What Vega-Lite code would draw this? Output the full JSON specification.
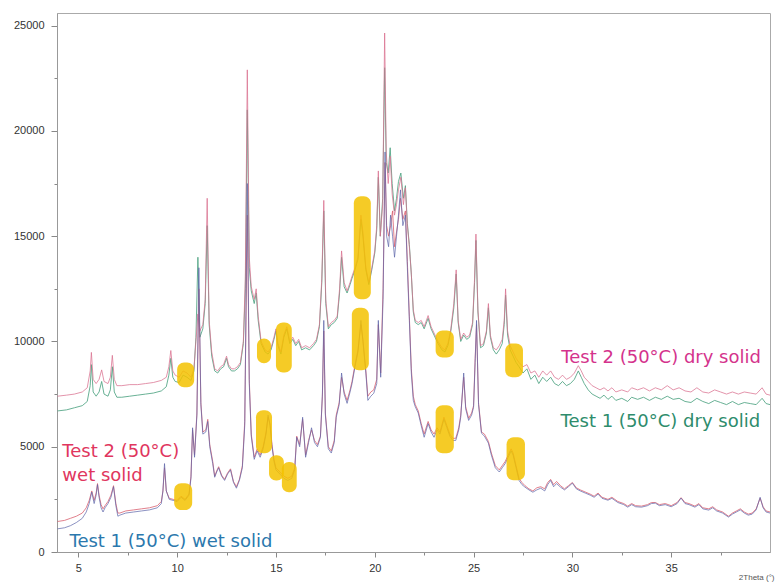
{
  "$schema": "https://vega.github.io/schema/vega-lite/v6.json",
  "autosize": "none",
  "width": 713,
  "height": 539,
  "padding": {"left": 57, "top": 13, "right": 7, "bottom": 31},
  "background": "white",
  "config": {
    "view": {"stroke": "#aaaaaa", "strokeWidth": 1},
    "axis": {"grid": false, "domainColor": "#999999", "tickColor": "#888888", "labelColor": "#333333", "labelFont": "Liberation Sans", "labelFontSize": 11}
  },
  "datasets": {
    "d2": [{"t":3.95,"i":7400},{"t":4.4,"i":7450},{"t":4.8,"i":7500},{"t":5.2,"i":7600},{"t":5.45,"i":7800},{"t":5.6,"i":8600},{"t":5.66,"i":9480},{"t":5.75,"i":8200},{"t":5.9,"i":8000},{"t":6.05,"i":8200},{"t":6.18,"i":8650},{"t":6.3,"i":8100},{"t":6.5,"i":8000},{"t":6.62,"i":8300},{"t":6.72,"i":9340},{"t":6.82,"i":8200},{"t":6.95,"i":7900},{"t":7.2,"i":7900},{"t":7.6,"i":7950},{"t":8.0,"i":7950},{"t":8.4,"i":8000},{"t":8.8,"i":8050},{"t":9.2,"i":8150},{"t":9.45,"i":8300},{"t":9.58,"i":8800},{"t":9.68,"i":9570},{"t":9.78,"i":8600},{"t":9.9,"i":8400},{"t":10.1,"i":8300},{"t":10.3,"i":8600},{"t":10.5,"i":8500},{"t":10.7,"i":8300},{"t":10.85,"i":8700},{"t":10.95,"i":10000},{"t":11.05,"i":11300},{"t":11.15,"i":10500},{"t":11.3,"i":10800},{"t":11.42,"i":12000},{"t":11.52,"i":16800},{"t":11.62,"i":11000},{"t":11.75,"i":9500},{"t":11.9,"i":8700},{"t":12.05,"i":8600},{"t":12.2,"i":8800},{"t":12.35,"i":8900},{"t":12.5,"i":9300},{"t":12.6,"i":8900},{"t":12.75,"i":8700},{"t":12.9,"i":8700},{"t":13.05,"i":8800},{"t":13.2,"i":9000},{"t":13.35,"i":10000},{"t":13.45,"i":13000},{"t":13.55,"i":22900},{"t":13.65,"i":14000},{"t":13.75,"i":12600},{"t":13.9,"i":12000},{"t":14.0,"i":12500},{"t":14.1,"i":11200},{"t":14.25,"i":10000},{"t":14.45,"i":9600},{"t":14.6,"i":9500},{"t":14.75,"i":9700},{"t":14.9,"i":10200},{"t":15.0,"i":10600},{"t":15.1,"i":9900},{"t":15.25,"i":9500},{"t":15.4,"i":10300},{"t":15.55,"i":10700},{"t":15.7,"i":10000},{"t":15.85,"i":10200},{"t":16.0,"i":9900},{"t":16.15,"i":10100},{"t":16.3,"i":9700},{"t":16.5,"i":9800},{"t":16.7,"i":9700},{"t":16.9,"i":9900},{"t":17.05,"i":10100},{"t":17.2,"i":10800},{"t":17.32,"i":13000},{"t":17.42,"i":16700},{"t":17.52,"i":12000},{"t":17.65,"i":10700},{"t":17.8,"i":10900},{"t":17.95,"i":11000},{"t":18.1,"i":11200},{"t":18.22,"i":12500},{"t":18.32,"i":14300},{"t":18.45,"i":12800},{"t":18.6,"i":12400},{"t":18.75,"i":12800},{"t":18.85,"i":13100},{"t":19.0,"i":13500},{"t":19.15,"i":14000},{"t":19.3,"i":16000},{"t":19.4,"i":15200},{"t":19.55,"i":13500},{"t":19.7,"i":12800},{"t":19.85,"i":13500},{"t":20.0,"i":14300},{"t":20.1,"i":15500},{"t":20.18,"i":18100},{"t":20.28,"i":15000},{"t":20.4,"i":16500},{"t":20.5,"i":24650},{"t":20.58,"i":19000},{"t":20.68,"i":17500},{"t":20.78,"i":18800},{"t":20.88,"i":17000},{"t":21.0,"i":16000},{"t":21.1,"i":16500},{"t":21.2,"i":17200},{"t":21.32,"i":17800},{"t":21.45,"i":16500},{"t":21.55,"i":17300},{"t":21.65,"i":15500},{"t":21.75,"i":14500},{"t":21.85,"i":13200},{"t":21.95,"i":11500},{"t":22.05,"i":11000},{"t":22.2,"i":10900},{"t":22.35,"i":11000},{"t":22.5,"i":10700},{"t":22.7,"i":11230},{"t":22.85,"i":10700},{"t":23.0,"i":10400},{"t":23.2,"i":10000},{"t":23.4,"i":9700},{"t":23.55,"i":9600},{"t":23.7,"i":9900},{"t":23.85,"i":10600},{"t":24.0,"i":11800},{"t":24.12,"i":13400},{"t":24.22,"i":11000},{"t":24.35,"i":10100},{"t":24.5,"i":10400},{"t":24.65,"i":10200},{"t":24.8,"i":10300},{"t":24.95,"i":10900},{"t":25.05,"i":13000},{"t":25.12,"i":15100},{"t":25.22,"i":11500},{"t":25.35,"i":9800},{"t":25.5,"i":9900},{"t":25.65,"i":10500},{"t":25.75,"i":11800},{"t":25.85,"i":10300},{"t":26.0,"i":9700},{"t":26.15,"i":9600},{"t":26.3,"i":9800},{"t":26.45,"i":10100},{"t":26.55,"i":11000},{"t":26.62,"i":12500},{"t":26.72,"i":10500},{"t":26.85,"i":9800},{"t":27.0,"i":9500},{"t":27.15,"i":9200},{"t":27.3,"i":9000},{"t":27.5,"i":8800},{"t":27.7,"i":8900},{"t":27.9,"i":8500},{"t":28.1,"i":8600},{"t":28.3,"i":8300},{"t":28.5,"i":8600},{"t":28.7,"i":8400},{"t":28.9,"i":8600},{"t":29.1,"i":8300},{"t":29.3,"i":8200},{"t":29.5,"i":8400},{"t":29.7,"i":8200},{"t":29.9,"i":8300},{"t":30.1,"i":8500},{"t":30.3,"i":8850},{"t":30.45,"i":8600},{"t":30.6,"i":8300},{"t":30.8,"i":8100},{"t":31.0,"i":7900},{"t":31.2,"i":7800},{"t":31.4,"i":7700},{"t":31.6,"i":7800},{"t":31.8,"i":7650},{"t":32.0,"i":7800},{"t":32.2,"i":7600},{"t":32.5,"i":7700},{"t":32.8,"i":7600},{"t":33.0,"i":7800},{"t":33.3,"i":7700},{"t":33.6,"i":7800},{"t":33.9,"i":7650},{"t":34.2,"i":7800},{"t":34.5,"i":7700},{"t":34.8,"i":7900},{"t":35.1,"i":7700},{"t":35.4,"i":7800},{"t":35.7,"i":7650},{"t":36.0,"i":7600},{"t":36.3,"i":7800},{"t":36.6,"i":7600},{"t":36.9,"i":7550},{"t":37.2,"i":7700},{"t":37.5,"i":7600},{"t":37.8,"i":7500},{"t":38.1,"i":7600},{"t":38.4,"i":7500},{"t":38.7,"i":7600},{"t":39.0,"i":7550},{"t":39.3,"i":7500},{"t":39.6,"i":7800},{"t":39.8,"i":7500},{"t":40.0,"i":7450}],
    "d1": [{"t":3.95,"i":6700},{"t":4.4,"i":6750},{"t":4.8,"i":6850},{"t":5.2,"i":6950},{"t":5.45,"i":7150},{"t":5.6,"i":7900},{"t":5.66,"i":8900},{"t":5.75,"i":7600},{"t":5.9,"i":7400},{"t":6.05,"i":7600},{"t":6.18,"i":8100},{"t":6.3,"i":7500},{"t":6.5,"i":7400},{"t":6.62,"i":7700},{"t":6.72,"i":8800},{"t":6.82,"i":7600},{"t":6.95,"i":7350},{"t":7.2,"i":7350},{"t":7.6,"i":7400},{"t":8.0,"i":7450},{"t":8.4,"i":7500},{"t":8.8,"i":7550},{"t":9.2,"i":7650},{"t":9.45,"i":7850},{"t":9.58,"i":8400},{"t":9.68,"i":9200},{"t":9.78,"i":8300},{"t":9.9,"i":8100},{"t":10.1,"i":8050},{"t":10.3,"i":8400},{"t":10.5,"i":8300},{"t":10.7,"i":8150},{"t":10.85,"i":8600},{"t":10.95,"i":10200},{"t":11.05,"i":14000},{"t":11.15,"i":10200},{"t":11.3,"i":10600},{"t":11.42,"i":11800},{"t":11.52,"i":15500},{"t":11.62,"i":10800},{"t":11.75,"i":9300},{"t":11.9,"i":8600},{"t":12.05,"i":8500},{"t":12.2,"i":8700},{"t":12.35,"i":8800},{"t":12.5,"i":9200},{"t":12.6,"i":8800},{"t":12.75,"i":8600},{"t":12.9,"i":8600},{"t":13.05,"i":8700},{"t":13.2,"i":8900},{"t":13.35,"i":9900},{"t":13.45,"i":12500},{"t":13.55,"i":21000},{"t":13.65,"i":13500},{"t":13.75,"i":12400},{"t":13.9,"i":11800},{"t":14.0,"i":12300},{"t":14.1,"i":11000},{"t":14.25,"i":9900},{"t":14.45,"i":9500},{"t":14.6,"i":9400},{"t":14.75,"i":9600},{"t":14.9,"i":10100},{"t":15.0,"i":10500},{"t":15.1,"i":9800},{"t":15.25,"i":9400},{"t":15.4,"i":10200},{"t":15.55,"i":10600},{"t":15.7,"i":9900},{"t":15.85,"i":10100},{"t":16.0,"i":9800},{"t":16.15,"i":10000},{"t":16.3,"i":9600},{"t":16.5,"i":9700},{"t":16.7,"i":9600},{"t":16.9,"i":9800},{"t":17.05,"i":10000},{"t":17.2,"i":10700},{"t":17.32,"i":12800},{"t":17.42,"i":16200},{"t":17.52,"i":11800},{"t":17.65,"i":10600},{"t":17.8,"i":10800},{"t":17.95,"i":10900},{"t":18.1,"i":11100},{"t":18.22,"i":12300},{"t":18.32,"i":14000},{"t":18.45,"i":12600},{"t":18.6,"i":12300},{"t":18.75,"i":12700},{"t":18.85,"i":13000},{"t":19.0,"i":13400},{"t":19.15,"i":13900},{"t":19.3,"i":15800},{"t":19.4,"i":15000},{"t":19.55,"i":13400},{"t":19.7,"i":12700},{"t":19.85,"i":13400},{"t":20.0,"i":14200},{"t":20.1,"i":15300},{"t":20.18,"i":17800},{"t":20.28,"i":15000},{"t":20.4,"i":16800},{"t":20.5,"i":23000},{"t":20.58,"i":18500},{"t":20.68,"i":18000},{"t":20.78,"i":19200},{"t":20.88,"i":17500},{"t":21.0,"i":16200},{"t":21.1,"i":16800},{"t":21.2,"i":17600},{"t":21.32,"i":18000},{"t":21.45,"i":16800},{"t":21.55,"i":17400},{"t":21.65,"i":15600},{"t":21.75,"i":14600},{"t":21.85,"i":13200},{"t":21.95,"i":11400},{"t":22.05,"i":10900},{"t":22.2,"i":10800},{"t":22.35,"i":10900},{"t":22.5,"i":10600},{"t":22.7,"i":11100},{"t":22.85,"i":10600},{"t":23.0,"i":10300},{"t":23.2,"i":9900},{"t":23.4,"i":9600},{"t":23.55,"i":9500},{"t":23.7,"i":9800},{"t":23.85,"i":10500},{"t":24.0,"i":11600},{"t":24.12,"i":13200},{"t":24.22,"i":10900},{"t":24.35,"i":10000},{"t":24.5,"i":10300},{"t":24.65,"i":10100},{"t":24.8,"i":10200},{"t":24.95,"i":10800},{"t":25.05,"i":12800},{"t":25.12,"i":14800},{"t":25.22,"i":11400},{"t":25.35,"i":9700},{"t":25.5,"i":9800},{"t":25.65,"i":10400},{"t":25.75,"i":11600},{"t":25.85,"i":10200},{"t":26.0,"i":9600},{"t":26.15,"i":9400},{"t":26.3,"i":9600},{"t":26.45,"i":9900},{"t":26.55,"i":10800},{"t":26.62,"i":12200},{"t":26.72,"i":10300},{"t":26.85,"i":9600},{"t":27.0,"i":9300},{"t":27.15,"i":9000},{"t":27.3,"i":8800},{"t":27.5,"i":8500},{"t":27.7,"i":8700},{"t":27.9,"i":8200},{"t":28.1,"i":8400},{"t":28.3,"i":8000},{"t":28.5,"i":8300},{"t":28.7,"i":8100},{"t":28.9,"i":8300},{"t":29.1,"i":8000},{"t":29.3,"i":7900},{"t":29.5,"i":8100},{"t":29.7,"i":7900},{"t":29.9,"i":8000},{"t":30.1,"i":8200},{"t":30.3,"i":8600},{"t":30.45,"i":8300},{"t":30.6,"i":8000},{"t":30.8,"i":7700},{"t":31.0,"i":7500},{"t":31.2,"i":7400},{"t":31.4,"i":7300},{"t":31.6,"i":7450},{"t":31.8,"i":7250},{"t":32.0,"i":7400},{"t":32.2,"i":7200},{"t":32.5,"i":7300},{"t":32.8,"i":7150},{"t":33.0,"i":7350},{"t":33.3,"i":7250},{"t":33.6,"i":7350},{"t":33.9,"i":7200},{"t":34.2,"i":7350},{"t":34.5,"i":7250},{"t":34.8,"i":7400},{"t":35.1,"i":7250},{"t":35.4,"i":7300},{"t":35.7,"i":7150},{"t":36.0,"i":7100},{"t":36.3,"i":7300},{"t":36.6,"i":7150},{"t":36.9,"i":7050},{"t":37.2,"i":7200},{"t":37.5,"i":7100},{"t":37.8,"i":7000},{"t":38.1,"i":7150},{"t":38.4,"i":7000},{"t":38.7,"i":7100},{"t":39.0,"i":7050},{"t":39.3,"i":7000},{"t":39.6,"i":7300},{"t":39.8,"i":7050},{"t":40.0,"i":7000}],
    "w1": [{"t":3.95,"i":1100},{"t":4.3,"i":1150},{"t":4.6,"i":1250},{"t":4.9,"i":1400},{"t":5.2,"i":1600},{"t":5.4,"i":1900},{"t":5.55,"i":2300},{"t":5.68,"i":2850},{"t":5.8,"i":2300},{"t":5.9,"i":2700},{"t":5.97,"i":3200},{"t":6.05,"i":2600},{"t":6.15,"i":2100},{"t":6.25,"i":1900},{"t":6.35,"i":2100},{"t":6.5,"i":2300},{"t":6.65,"i":2600},{"t":6.78,"i":3100},{"t":6.9,"i":2200},{"t":7.0,"i":1700},{"t":7.1,"i":1750},{"t":7.4,"i":1850},{"t":7.8,"i":1900},{"t":8.2,"i":1950},{"t":8.6,"i":2000},{"t":9.0,"i":2100},{"t":9.2,"i":2300},{"t":9.28,"i":2900},{"t":9.36,"i":4200},{"t":9.45,"i":2900},{"t":9.6,"i":2500},{"t":9.8,"i":2450},{"t":10.0,"i":2400},{"t":10.2,"i":2600},{"t":10.4,"i":2450},{"t":10.6,"i":2700},{"t":10.7,"i":3500},{"t":10.78,"i":5900},{"t":10.88,"i":4500},{"t":11.0,"i":6500},{"t":11.1,"i":13500},{"t":11.2,"i":7000},{"t":11.3,"i":5600},{"t":11.45,"i":5700},{"t":11.55,"i":6200},{"t":11.65,"i":5000},{"t":11.8,"i":4200},{"t":11.9,"i":3550},{"t":12.0,"i":3800},{"t":12.1,"i":4000},{"t":12.25,"i":3600},{"t":12.4,"i":3400},{"t":12.55,"i":3700},{"t":12.7,"i":3900},{"t":12.85,"i":3300},{"t":13.0,"i":3030},{"t":13.15,"i":3400},{"t":13.3,"i":4000},{"t":13.42,"i":6000},{"t":13.55,"i":17500},{"t":13.65,"i":8000},{"t":13.75,"i":5500},{"t":13.9,"i":4400},{"t":14.05,"i":4800},{"t":14.2,"i":4500},{"t":14.35,"i":4900},{"t":14.5,"i":5600},{"t":14.6,"i":6500},{"t":14.7,"i":6000},{"t":14.8,"i":5000},{"t":14.9,"i":4300},{"t":15.0,"i":3900},{"t":15.2,"i":3700},{"t":15.4,"i":3500},{"t":15.6,"i":3400},{"t":15.8,"i":3500},{"t":15.95,"i":3900},{"t":16.05,"i":5450},{"t":16.2,"i":5000},{"t":16.35,"i":6400},{"t":16.5,"i":4500},{"t":16.65,"i":5200},{"t":16.8,"i":5900},{"t":16.95,"i":5200},{"t":17.1,"i":5000},{"t":17.25,"i":5450},{"t":17.35,"i":7500},{"t":17.42,"i":11000},{"t":17.5,"i":6500},{"t":17.65,"i":4900},{"t":17.8,"i":4700},{"t":17.95,"i":5200},{"t":18.05,"i":6400},{"t":18.2,"i":7000},{"t":18.32,"i":8500},{"t":18.45,"i":7500},{"t":18.6,"i":7060},{"t":18.75,"i":7600},{"t":18.85,"i":8000},{"t":19.0,"i":8800},{"t":19.15,"i":9500},{"t":19.3,"i":11000},{"t":19.4,"i":10000},{"t":19.55,"i":8500},{"t":19.65,"i":7200},{"t":19.8,"i":7400},{"t":19.95,"i":7540},{"t":20.1,"i":8000},{"t":20.18,"i":11000},{"t":20.3,"i":8300},{"t":20.42,"i":12000},{"t":20.52,"i":19000},{"t":20.6,"i":15000},{"t":20.7,"i":14500},{"t":20.8,"i":16000},{"t":20.9,"i":15000},{"t":21.0,"i":14000},{"t":21.1,"i":15000},{"t":21.2,"i":16000},{"t":21.3,"i":17200},{"t":21.42,"i":15500},{"t":21.55,"i":16000},{"t":21.65,"i":13500},{"t":21.75,"i":11000},{"t":21.85,"i":8500},{"t":21.95,"i":7200},{"t":22.05,"i":6900},{"t":22.2,"i":6600},{"t":22.35,"i":6000},{"t":22.5,"i":5450},{"t":22.7,"i":6100},{"t":22.85,"i":5700},{"t":23.0,"i":5450},{"t":23.15,"i":5800},{"t":23.3,"i":5600},{"t":23.5,"i":6300},{"t":23.65,"i":5900},{"t":23.8,"i":5500},{"t":23.95,"i":5300},{"t":24.1,"i":5300},{"t":24.25,"i":5800},{"t":24.35,"i":6400},{"t":24.5,"i":8500},{"t":24.6,"i":6800},{"t":24.75,"i":6250},{"t":24.9,"i":6500},{"t":25.0,"i":6870},{"t":25.08,"i":9000},{"t":25.15,"i":11000},{"t":25.25,"i":7000},{"t":25.4,"i":5640},{"t":25.55,"i":5500},{"t":25.75,"i":5170},{"t":25.9,"i":4600},{"t":26.1,"i":4000},{"t":26.3,"i":3800},{"t":26.45,"i":4000},{"t":26.6,"i":4200},{"t":26.75,"i":4500},{"t":26.9,"i":4800},{"t":27.0,"i":4600},{"t":27.15,"i":4000},{"t":27.3,"i":3400},{"t":27.45,"i":3200},{"t":27.6,"i":3080},{"t":27.8,"i":2950},{"t":28.0,"i":2840},{"t":28.2,"i":2950},{"t":28.4,"i":3030},{"t":28.6,"i":2900},{"t":28.75,"i":3200},{"t":28.9,"i":3400},{"t":29.05,"i":3100},{"t":29.2,"i":3250},{"t":29.4,"i":3080},{"t":29.6,"i":2950},{"t":29.8,"i":3100},{"t":30.0,"i":3270},{"t":30.2,"i":3000},{"t":30.4,"i":2900},{"t":30.65,"i":2800},{"t":30.9,"i":2700},{"t":31.1,"i":2600},{"t":31.3,"i":2750},{"t":31.5,"i":2550},{"t":31.8,"i":2460},{"t":32.0,"i":2550},{"t":32.3,"i":2350},{"t":32.6,"i":2250},{"t":32.8,"i":2130},{"t":33.0,"i":2250},{"t":33.2,"i":2150},{"t":33.5,"i":2130},{"t":33.8,"i":2200},{"t":34.0,"i":2300},{"t":34.2,"i":2320},{"t":34.4,"i":2200},{"t":34.7,"i":2250},{"t":35.0,"i":2150},{"t":35.3,"i":2300},{"t":35.5,"i":2560},{"t":35.7,"i":2300},{"t":35.9,"i":2250},{"t":36.2,"i":2130},{"t":36.4,"i":2250},{"t":36.6,"i":2050},{"t":36.9,"i":1990},{"t":37.1,"i":2100},{"t":37.3,"i":1950},{"t":37.6,"i":1850},{"t":37.9,"i":1660},{"t":38.1,"i":1800},{"t":38.3,"i":1900},{"t":38.5,"i":2000},{"t":38.7,"i":1850},{"t":38.9,"i":1750},{"t":39.1,"i":1800},{"t":39.3,"i":2000},{"t":39.5,"i":2600},{"t":39.65,"i":2100},{"t":39.8,"i":1900},{"t":40.0,"i":1850}],
    "w2": [{"t":3.95,"i":1450},{"t":4.3,"i":1500},{"t":4.6,"i":1600},{"t":4.9,"i":1700},{"t":5.2,"i":1850},{"t":5.4,"i":2100},{"t":5.55,"i":2450},{"t":5.68,"i":2900},{"t":5.8,"i":2450},{"t":5.9,"i":2800},{"t":5.97,"i":3250},{"t":6.05,"i":2700},{"t":6.15,"i":2250},{"t":6.25,"i":2050},{"t":6.35,"i":2200},{"t":6.5,"i":2400},{"t":6.65,"i":2700},{"t":6.78,"i":3150},{"t":6.9,"i":2300},{"t":7.0,"i":1850},{"t":7.1,"i":1850},{"t":7.4,"i":1950},{"t":7.8,"i":2000},{"t":8.2,"i":2050},{"t":8.6,"i":2100},{"t":9.0,"i":2200},{"t":9.2,"i":2400},{"t":9.28,"i":2900},{"t":9.36,"i":4000},{"t":9.45,"i":2900},{"t":9.6,"i":2550},{"t":9.8,"i":2500},{"t":10.0,"i":2450},{"t":10.2,"i":2650},{"t":10.4,"i":2500},{"t":10.6,"i":2750},{"t":10.7,"i":3600},{"t":10.78,"i":5800},{"t":10.88,"i":4600},{"t":11.0,"i":6600},{"t":11.1,"i":12500},{"t":11.2,"i":7100},{"t":11.3,"i":5700},{"t":11.45,"i":5800},{"t":11.55,"i":6300},{"t":11.65,"i":5100},{"t":11.8,"i":4300},{"t":11.9,"i":3600},{"t":12.0,"i":3850},{"t":12.1,"i":4050},{"t":12.25,"i":3650},{"t":12.4,"i":3450},{"t":12.55,"i":3750},{"t":12.7,"i":3950},{"t":12.85,"i":3350},{"t":13.0,"i":3100},{"t":13.15,"i":3450},{"t":13.3,"i":4100},{"t":13.42,"i":6200},{"t":13.55,"i":16000},{"t":13.65,"i":8200},{"t":13.75,"i":5600},{"t":13.9,"i":4500},{"t":14.05,"i":4900},{"t":14.2,"i":4600},{"t":14.35,"i":5000},{"t":14.5,"i":5700},{"t":14.6,"i":6400},{"t":14.7,"i":6100},{"t":14.8,"i":5100},{"t":14.9,"i":4400},{"t":15.0,"i":4000},{"t":15.2,"i":3800},{"t":15.4,"i":3600},{"t":15.6,"i":3500},{"t":15.8,"i":3600},{"t":15.95,"i":4000},{"t":16.05,"i":5500},{"t":16.2,"i":5100},{"t":16.35,"i":6300},{"t":16.5,"i":4600},{"t":16.65,"i":5300},{"t":16.8,"i":5800},{"t":16.95,"i":5300},{"t":17.1,"i":5100},{"t":17.25,"i":5500},{"t":17.35,"i":7400},{"t":17.42,"i":10500},{"t":17.5,"i":6600},{"t":17.65,"i":5000},{"t":17.8,"i":4800},{"t":17.95,"i":5300},{"t":18.05,"i":6500},{"t":18.2,"i":7100},{"t":18.32,"i":8300},{"t":18.45,"i":7600},{"t":18.6,"i":7200},{"t":18.75,"i":7700},{"t":18.85,"i":8100},{"t":19.0,"i":8900},{"t":19.15,"i":9600},{"t":19.3,"i":10800},{"t":19.4,"i":10100},{"t":19.55,"i":8600},{"t":19.65,"i":7400},{"t":19.8,"i":7600},{"t":19.95,"i":7700},{"t":20.1,"i":8200},{"t":20.18,"i":10800},{"t":20.3,"i":8500},{"t":20.42,"i":12500},{"t":20.52,"i":18500},{"t":20.6,"i":15500},{"t":20.7,"i":15000},{"t":20.8,"i":15500},{"t":20.9,"i":16200},{"t":21.0,"i":14500},{"t":21.1,"i":15200},{"t":21.2,"i":15800},{"t":21.3,"i":16800},{"t":21.42,"i":15800},{"t":21.55,"i":16200},{"t":21.65,"i":13800},{"t":21.75,"i":11200},{"t":21.85,"i":8700},{"t":21.95,"i":7400},{"t":22.05,"i":7000},{"t":22.2,"i":6700},{"t":22.35,"i":6100},{"t":22.5,"i":5600},{"t":22.7,"i":6200},{"t":22.85,"i":5800},{"t":23.0,"i":5600},{"t":23.15,"i":5900},{"t":23.3,"i":5700},{"t":23.5,"i":6400},{"t":23.65,"i":6000},{"t":23.8,"i":5600},{"t":23.95,"i":5400},{"t":24.1,"i":5400},{"t":24.25,"i":5900},{"t":24.35,"i":6500},{"t":24.5,"i":8300},{"t":24.6,"i":6900},{"t":24.75,"i":6350},{"t":24.9,"i":6600},{"t":25.0,"i":6950},{"t":25.08,"i":9200},{"t":25.15,"i":10800},{"t":25.25,"i":7100},{"t":25.4,"i":5700},{"t":25.55,"i":5600},{"t":25.75,"i":5250},{"t":25.9,"i":4700},{"t":26.1,"i":4100},{"t":26.3,"i":3900},{"t":26.45,"i":4100},{"t":26.6,"i":4300},{"t":26.75,"i":4600},{"t":26.9,"i":4900},{"t":27.0,"i":4700},{"t":27.15,"i":4100},{"t":27.3,"i":3500},{"t":27.45,"i":3300},{"t":27.6,"i":3150},{"t":27.8,"i":3000},{"t":28.0,"i":2900},{"t":28.2,"i":3050},{"t":28.4,"i":3100},{"t":28.6,"i":3000},{"t":28.75,"i":3300},{"t":28.9,"i":3450},{"t":29.05,"i":3200},{"t":29.2,"i":3350},{"t":29.4,"i":3150},{"t":29.6,"i":3000},{"t":29.8,"i":3150},{"t":30.0,"i":3300},{"t":30.2,"i":3050},{"t":30.4,"i":2950},{"t":30.65,"i":2850},{"t":30.9,"i":2750},{"t":31.1,"i":2650},{"t":31.3,"i":2800},{"t":31.5,"i":2600},{"t":31.8,"i":2500},{"t":32.0,"i":2600},{"t":32.3,"i":2400},{"t":32.6,"i":2300},{"t":32.8,"i":2180},{"t":33.0,"i":2300},{"t":33.2,"i":2200},{"t":33.5,"i":2180},{"t":33.8,"i":2250},{"t":34.0,"i":2350},{"t":34.2,"i":2350},{"t":34.4,"i":2250},{"t":34.7,"i":2300},{"t":35.0,"i":2200},{"t":35.3,"i":2350},{"t":35.5,"i":2580},{"t":35.7,"i":2350},{"t":35.9,"i":2300},{"t":36.2,"i":2180},{"t":36.4,"i":2300},{"t":36.6,"i":2100},{"t":36.9,"i":2050},{"t":37.1,"i":2150},{"t":37.3,"i":2000},{"t":37.6,"i":1900},{"t":37.9,"i":1700},{"t":38.1,"i":1850},{"t":38.3,"i":1950},{"t":38.5,"i":2050},{"t":38.7,"i":1900},{"t":38.9,"i":1800},{"t":39.1,"i":1850},{"t":39.3,"i":2050},{"t":39.5,"i":2550},{"t":39.65,"i":2150},{"t":39.8,"i":1950},{"t":40.0,"i":1900}],
    "hl": [
      {"t":10.0,"t2":10.86,"i":7820,"i2":9000},
      {"t":14.04,"t2":14.75,"i":8960,"i2":10140},
      {"t":15.0,"t2":15.8,"i":8530,"i2":10900},
      {"t":18.94,"t2":19.8,"i":12000,"i2":16900},
      {"t":18.84,"t2":19.7,"i":8630,"i2":11600},
      {"t":23.08,"t2":24.0,"i":9240,"i2":10520},
      {"t":26.6,"t2":27.5,"i":8300,"i2":9900},
      {"t":9.85,"t2":10.76,"i":1990,"i2":3270},
      {"t":13.99,"t2":14.8,"i":4690,"i2":6730},
      {"t":14.65,"t2":15.4,"i":3400,"i2":4600},
      {"t":15.3,"t2":16.05,"i":2840,"i2":4270},
      {"t":23.08,"t2":24.0,"i":4690,"i2":6970},
      {"t":26.67,"t2":27.6,"i":3410,"i2":5450}
    ]
  },
  "encoding": {
    "x": {
      "field": "t", "type": "quantitative",
      "scale": {"domain": [3.92, 40], "nice": false, "zero": false},
      "axis": {
        "title": "2Theta (°)", "titleFont": "Liberation Sans", "titleFontSize": 8, "titleFontWeight": "normal", "titleColor": "#555555",
        "titleAnchor": null, "titleX": 717, "titleY": 25, "titleAlign": "right", "titleBaseline": "middle",
        "values": [5, 7.5, 10, 12.5, 15, 17.5, 20, 22.5, 25, 27.5, 30, 32.5, 35, 37.5],
        "labelExpr": "datum.value % 5 === 0 ? datum.label : ''",
        "tickSize": {"condition": {"test": "datum.value % 5 !== 0", "value": 3}, "value": 5},
        "labelPadding": 5
      }
    },
    "y": {
      "field": "i", "type": "quantitative",
      "scale": {"domain": [0, 25600], "nice": false},
      "axis": {
        "title": null,
        "values": [0, 2500, 5000, 7500, 10000, 12500, 15000, 17500, 20000, 22500, 25000],
        "labelExpr": "datum.value % 5000 === 0 ? datum.value + '' : ''",
        "tickSize": {"condition": {"test": "datum.value % 5000 !== 0", "value": 3}, "value": 6},
        "labelPadding": 7
      }
    }
  },
  "layer": [
    {"data": {"name": "d1"}, "mark": {"type": "line", "color": "#4fa382", "strokeWidth": 1, "opacity": 0.85}, "encoding": {}},
    {"data": {"name": "d2"}, "mark": {"type": "line", "color": "#d9708f", "strokeWidth": 1, "opacity": 0.75}, "encoding": {}},
    {"data": {"name": "w2"}, "mark": {"type": "line", "color": "#d9606f", "strokeWidth": 1, "opacity": 0.8}, "encoding": {}},
    {"data": {"name": "w1"}, "mark": {"type": "line", "color": "#5b64a8", "strokeWidth": 1, "opacity": 0.7}, "encoding": {}},
    {"data": {"name": "hl"}, "mark": {"type": "rect", "color": "#f3c200", "opacity": 0.85, "cornerRadius": 7}, "encoding": {"x2": {"field": "t2"}, "y2": {"field": "i2"}}},
    {"data": {"values": [{"t": 4.19, "i": 4500, "label": "Test 2 (50°C)"}, {"t": 4.19, "i": 3380, "label": "wet solid"}]},
     "mark": {"type": "text", "align": "left", "baseline": "alphabetic", "font": "DejaVu Sans", "fontSize": 18, "color": "#e0365e"},
     "encoding": {"text": {"field": "label"}}},
    {"data": {"values": [{"t": 4.55, "i": 250, "label": "Test 1 (50°C) wet solid"}]},
     "mark": {"type": "text", "align": "left", "baseline": "alphabetic", "font": "DejaVu Sans", "fontSize": 18, "color": "#2b78ad"},
     "encoding": {"text": {"field": "label"}}},
    {"data": {"values": [{"t": 29.44, "i": 9000, "label": "Test 2 (50°C) dry solid"}]},
     "mark": {"type": "text", "align": "left", "baseline": "alphabetic", "font": "DejaVu Sans", "fontSize": 18, "color": "#d4338c"},
     "encoding": {"text": {"field": "label"}}},
    {"data": {"values": [{"t": 29.4, "i": 5930, "label": "Test 1 (50°C) dry solid"}]},
     "mark": {"type": "text", "align": "left", "baseline": "alphabetic", "font": "DejaVu Sans", "fontSize": 18, "color": "#2e8c6c"},
     "encoding": {"text": {"field": "label"}}}
  ]
}
